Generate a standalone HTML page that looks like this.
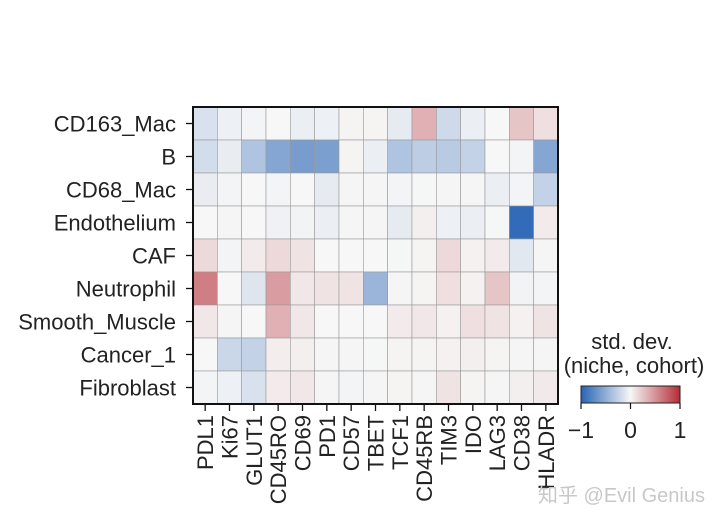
<!DOCTYPE html>
<html><head><meta charset="utf-8"><style>
body{margin:0;background:#fff;}
svg text{font-family:"Liberation Sans","Noto Sans CJK SC",sans-serif;fill:#222;}
</style></head><body>
<svg id="chart" width="720" height="526" viewBox="0 0 720 526">
<defs><linearGradient id="cb" x1="0" x2="1" y1="0" y2="0">
<stop offset="0" stop-color="rgb(40,100,180)"/><stop offset="0.5" stop-color="rgb(247,247,247)"/><stop offset="1" stop-color="rgb(180,45,55)"/>
</linearGradient></defs>
<g id="cells"></g>
<g id="labels"></g>
<rect x="193" y="107" width="365" height="297" fill="none" stroke="#111" stroke-width="2"/>
<text x="632" y="349" font-size="22" text-anchor="middle">std. dev.</text>
<text x="634" y="373" font-size="22" text-anchor="middle">(niche, cohort)</text>
<rect x="581" y="386" width="99" height="17" fill="url(#cb)" stroke="#222" stroke-width="1"/>
<g id="cbticks"></g>
<text x="705" y="502" font-size="20" text-anchor="end" style="fill:#c8c8c8">知乎 @Evil Genius</text>
</svg>
<script>
const rows=["CD163_Mac","B","CD68_Mac","Endothelium","CAF","Neutrophil","Smooth_Muscle","Cancer_1","Fibroblast"];
const cols=["PDL1","Ki67","GLUT1","CD45RO","CD69","PD1","CD57","TBET","TCF1","CD45RB","TIM3","IDO","LAG3","CD38","HLADR"];
const values=[
[-0.15,-0.05,-0.02,0,-0.06,-0.05,0.02,0.02,-0.08,0.35,-0.2,-0.06,0,0.25,0.12],
[-0.18,-0.07,-0.35,-0.55,-0.62,-0.6,0.02,-0.06,-0.35,-0.28,-0.3,-0.25,0,-0.02,-0.55],
[-0.07,-0.02,0,-0.02,0,-0.08,0.01,0.01,-0.02,-0.01,0.01,0.01,-0.06,-0.02,-0.25],
[0,0.01,0,-0.04,-0.03,-0.06,0.01,0.01,-0.08,0.04,-0.05,-0.06,-0.01,-0.95,0.06],
[0.15,-0.02,0.06,0.15,0.1,0,0,0,-0.01,0.02,0.15,0.03,0.06,-0.1,0.01],
[0.6,0,-0.12,0.45,0.08,0.1,0.1,-0.45,0.01,0.02,0.12,0.03,0.25,-0.03,-0.02],
[0.08,0.01,0,0.35,0.08,0,0,0,0.06,0.08,0.03,0.12,0.1,0.03,0.1],
[0,-0.22,-0.25,0.05,0.04,0.01,0.01,-0.01,0.02,0.02,0.03,0.04,0.02,0.01,0.01],
[-0.02,-0.05,-0.15,0.06,0.08,0.01,-0.02,0.01,0.02,0.01,0.1,0.02,0.01,0.04,0.07]];
const cbTicks=[-1,0,1];
const X0=193,Y0=107,W=365,H=297,cw=W/cols.length,rh=H/rows.length;
const xs=i=>X0+i*cw, ys=j=>Y0+j*rh, cbx=v=>581+(v+1)/2*99;
function color(v){v=Math.max(-1,Math.min(1,v));const w=[247,247,247],b=[40,100,180],r=[180,45,55];
const t=Math.abs(v),e=v<0?b:r;return`rgb(${w.map((c,k)=>Math.round(c+(e[k]-c)*t)).join(',')})`;}
const NS="http://www.w3.org/2000/svg",cells=document.getElementById('cells'),lab=document.getElementById('labels');
function mk(tag,a,p){const el=document.createElementNS(NS,tag);for(const k in a)el.setAttribute(k,a[k]);p.appendChild(el);return el;}
values.forEach((row,j)=>row.forEach((v,i)=>{
const el=mk('rect',{x:xs(i),y:ys(j),width:cw,height:rh,fill:color(v),stroke:'#999','stroke-width':0.6},cells);


}));
rows.forEach((r,j)=>{
const y=ys(j)+rh/2;
const t=mk('text',{x:176,y:y+8,'font-size':22,'text-anchor':'end'},lab);t.textContent=r;


const tk=mk('line',{x1:186,x2:193,y1:y,y2:y,stroke:'#111','stroke-width':1.3},lab);


});
cols.forEach((c,i)=>{
const x=xs(i)+cw/2;
const tk=mk('line',{x1:x,x2:x,y1:404,y2:411,stroke:'#111','stroke-width':1.3},lab);


const t=mk('text',{x:0,y:0,'font-size':22,'text-anchor':'end',transform:`translate(${x+8},415) rotate(-90)`},lab);t.textContent=c;


});
const cbt=document.getElementById('cbticks');
cbTicks.forEach(v=>{
const x=cbx(v);
const tk=mk('line',{x1:x,x2:x,y1:403,y2:409,stroke:'#111','stroke-width':1.2},cbt);


const t=mk('text',{x:x,y:438,'font-size':23,'text-anchor':'middle'},cbt);t.textContent=v<0?'−'+Math.abs(v):String(v);


});
</script>
</body></html>
